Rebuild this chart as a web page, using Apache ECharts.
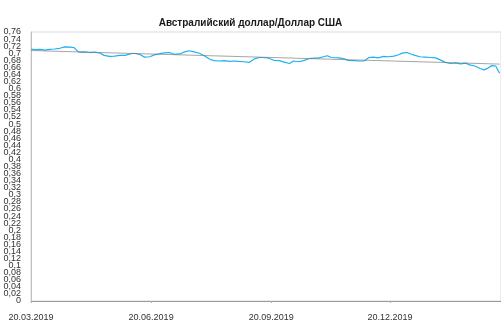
<!DOCTYPE html>
<html>
<head>
<meta charset="utf-8">
<script src="https://cdn.jsdelivr.net/npm/echarts@6/dist/echarts.min.js"></script>
<style>
  html, body { margin: 0; padding: 0; background: #fff; }
  #chart { width: 501px; height: 322px; }
</style>
</head>
<body>
<div id="chart"></div>
<script>
// AUD/USD closing rates, 20.03.2019 – 13.03.2020
const dates = [
  '2019-03-20','2019-03-23','2019-03-27','2019-03-31','2019-04-03','2019-04-07','2019-04-11','2019-04-15',
  '2019-04-19','2019-04-22','2019-04-24','2019-04-26','2019-04-30','2019-05-04','2019-05-08','2019-05-12',
  '2019-05-15','2019-05-19','2019-05-23','2019-05-27','2019-05-31','2019-06-04','2019-06-07','2019-06-11',
  '2019-06-15','2019-06-19','2019-06-23','2019-06-26','2019-06-30','2019-07-04','2019-07-08','2019-07-12',
  '2019-07-15','2019-07-19','2019-07-23','2019-07-27','2019-07-31','2019-08-04','2019-08-07','2019-08-11',
  '2019-08-15','2019-08-19','2019-08-23','2019-08-26','2019-08-30','2019-09-03','2019-09-07','2019-09-11',
  '2019-09-14','2019-09-18','2019-09-22','2019-09-26','2019-09-30','2019-10-04','2019-10-07','2019-10-11',
  '2019-10-15','2019-10-19','2019-10-23','2019-10-26','2019-10-30','2019-11-02','2019-11-05','2019-11-11',
  '2019-11-15','2019-11-18','2019-11-22','2019-11-26','2019-11-30','2019-12-04','2019-12-07','2019-12-11',
  '2019-12-15','2019-12-19','2019-12-23','2019-12-26','2019-12-30','2020-01-02','2020-01-05','2020-01-08',
  '2020-01-12','2020-01-16','2020-01-20','2020-01-24','2020-01-27','2020-01-31','2020-02-04','2020-02-08',
  '2020-02-12','2020-02-16','2020-02-19','2020-02-23','2020-02-27','2020-03-01','2020-03-04','2020-03-07',
  '2020-03-10','2020-03-12','2020-03-13'
];
const rates = [
  0.712,0.710,0.711,0.709,0.711,0.712,0.714,0.718,
  0.717,0.716,0.708,0.703,0.704,0.702,0.703,0.700,
  0.694,0.691,0.692,0.694,0.694,0.698,0.700,0.697,
  0.689,0.690,0.696,0.698,0.701,0.702,0.697,0.698,
  0.703,0.707,0.704,0.700,0.692,0.683,0.679,0.678,
  0.679,0.677,0.678,0.677,0.676,0.674,0.684,0.688,
  0.688,0.686,0.680,0.679,0.675,0.671,0.678,0.676,
  0.679,0.685,0.686,0.686,0.690,0.693,0.688,0.687,
  0.684,0.680,0.679,0.678,0.678,0.688,0.689,0.687,
  0.691,0.690,0.692,0.695,0.701,0.702,0.698,0.694,
  0.690,0.689,0.688,0.687,0.682,0.675,0.671,0.673,
  0.670,0.672,0.667,0.664,0.657,0.653,0.658,0.665,
  0.664,0.649,0.644
];
const tickDates = ['2019-03-20','2019-06-20','2019-09-20','2019-12-20'];
const yMin = 0, yMax = 0.76, yStep = 0.02;
const titleText = 'Австралийский доллар/Доллар США';

const DAY = 86400000;
const origin = Date.UTC(2019, 2, 20);
function dayOf(s) {
  const p = s.split('-').map(Number);
  return Math.round((Date.UTC(p[0], p[1] - 1, p[2]) - origin) / DAY);
}
function labelOf(day) {
  const d = new Date(origin + day * DAY);
  const dd = String(d.getUTCDate()).padStart(2, '0');
  const mm = String(d.getUTCMonth() + 1).padStart(2, '0');
  return dd + '.' + mm + '.' + d.getUTCFullYear();
}
const fmtY = v => String(parseFloat(Number(v).toFixed(2))).replace('.', ',');

const xs = dates.map(dayOf);
const points = xs.map((x, i) => [x, rates[i]]);

// linear trend (least squares) over the whole period
const n = xs.length;
const mx = xs.reduce((a, b) => a + b, 0) / n;
const my = rates.reduce((a, b) => a + b, 0) / n;
let sxy = 0, sxx = 0;
for (let i = 0; i < n; i++) { sxy += (xs[i] - mx) * (rates[i] - my); sxx += (xs[i] - mx) ** 2; }
const slope = sxy / sxx, icpt = my - slope * mx;
const trend = [[xs[0], icpt + slope * xs[0]], [xs[n - 1], icpt + slope * xs[n - 1]]];

const font = 'Liberation Sans, Arial, sans-serif';
const yLabel = { margin: 10, fontFamily: font, fontSize: 9, color: '#333', formatter: fmtY };

const chart = echarts.init(document.getElementById('chart'), null, { renderer: 'canvas' });
chart.setOption({
  animation: false,
  title: {
    text: titleText, left: 'center', top: 13,
    textStyle: { fontFamily: font, fontSize: 10, fontWeight: 'bold', color: '#1a1a1a' }
  },
  grid: { left: 31, right: -2, top: 32, bottom: 21, show: true, borderColor: '#d9d9d9', borderWidth: 1 },
  xAxis: {
    type: 'value', min: 0, max: 360,
    splitLine: { show: false },
    axisLine: { lineStyle: { color: '#9a9a9a', width: 1 } },
    axisTick: { show: true, length: 2, lineStyle: { color: '#b0b0b0' }, customValues: tickDates.map(dayOf) },
    axisLabel: {
      customValues: tickDates.map(dayOf), formatter: v => labelOf(v),
      margin: 12, fontFamily: font, fontSize: 9, color: '#333'
    }
  },
  yAxis: [
    {
      // inner ticks 0,02 … 0,74
      type: 'value', min: yMin, max: yMax, interval: yStep, position: 'left',
      splitLine: { show: false },
      axisLine: { show: true, lineStyle: { color: '#c0c0c0' } },
      axisTick: { show: false },
      axisLabel: Object.assign({ showMinLabel: false, showMaxLabel: false }, yLabel)
    },
    {
      // end ticks 0 and 0,76
      type: 'value', min: yMin, max: yMax, position: 'left', offset: 0,
      splitLine: { show: false },
      axisLine: { show: false },
      axisTick: { show: false },
      axisLabel: Object.assign({ customValues: [yMin, yMax], showMinLabel: true, showMaxLabel: true }, yLabel)
    }
  ],
  series: [
    {
      type: 'line', data: points, showSymbol: false, smooth: false,
      lineStyle: { color: '#1eb1ef', width: 1.2 }
    },
    {
      type: 'line', data: trend, showSymbol: false,
      lineStyle: { color: '#7f7f7f', width: 1, opacity: 0.7 }
    }
  ]
});
</script>
</body>
</html>
